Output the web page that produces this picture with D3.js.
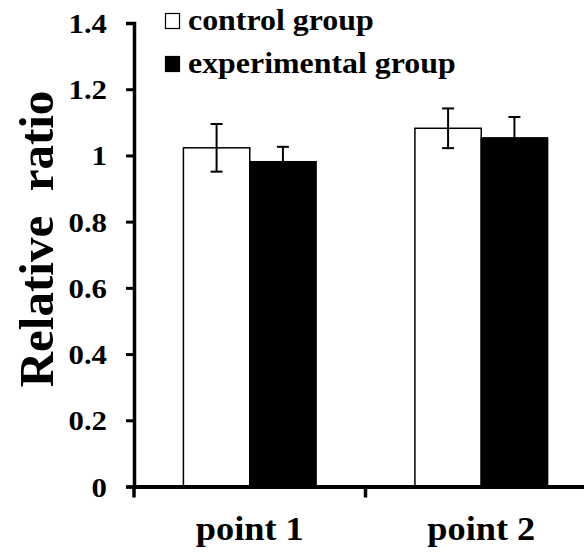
<!DOCTYPE html>
<html>
<head>
<meta charset="utf-8">
<script src="https://cdn.jsdelivr.net/npm/d3@7"></script>
<style>
  body { margin: 0; background: #fff; }
</style>
</head>
<body>
<div id="chart"></div>
<script>
// data
let categories = ["point 1", "point 2"];
let series = ["control group", "experimental group"];
let control_values = [1.023, 1.082];
let control_errors = [0.072, 0.060];
let experimental_values = [0.981, 1.053];
let experimental_errors = [0.045, 0.063];
let y_ticks = [0, 0.2, 0.4, 0.6, 0.8, 1, 1.2, 1.4];

let width = 584, height = 553;
let margin = {top: 23, left: 134, bottom: 66};
let font = "'Liberation Serif', 'Times New Roman', serif";
let stretch = 1.1;   //reference text is a bit wider than normal

let svg = d3.select("#chart")
            .append("svg")
            .attr("width", width)
            .attr("height", height);

//helper: bold serif text
function styleText(sel, size) {
  sel.style("font-family", font)
     .style("font-weight", "bold")
     .style("font-size", size + "px")
     .attr("fill", "#000");
}

//x scale for groups
let x0 = d3.scaleBand()
           .domain(categories)
           .range([margin.left, margin.left + 463]);

//x scale inside each group
let x1 = d3.scaleBand()
           .domain(series)
           .range([0, x0.bandwidth()])
           .paddingOuter(0.745);

let y = d3.scaleLinear()
          .domain([0, 1.4])
          .range([height - margin.bottom - 0.5, margin.top]);

//rows for bars
let rows = [];
categories.forEach(function(c, i) {
  rows.push({cat: c, s: series[0], v: control_values[i], e: control_errors[i]});
  rows.push({cat: c, s: series[1], v: experimental_values[i], e: experimental_errors[i]});
});

let color = d3.scaleOrdinal().domain(series).range(["#fff", "#000"]);

//bars
svg.append("g").selectAll("rect")
   .data(rows)
   .enter()
   .append("rect")
   .attr("x", function(d) { return x0(d.cat) + x1(d.s) })
   .attr("y", function(d) { return y(d.v) })
   .attr("width", x1.bandwidth())
   .attr("height", function(d) { return y(0) - y(d.v) })
   .attr("fill", function(d) { return color(d.s) })
   .attr("stroke", "#000")
   .attr("stroke-width", 1.5);

//error bars (lower half hidden behind black bars)
let err = svg.append("g").attr("stroke", "#000").attr("stroke-width", 2);
rows.forEach(function(d) {
  let cx = x0(d.cat) + x1(d.s) + x1.bandwidth() / 2;
  let top = y(d.v + d.e);
  let bottom = d.s === series[0] ? y(d.v - d.e) : y(d.v);
  err.append("line").attr("x1", cx).attr("x2", cx).attr("y1", top).attr("y2", bottom);
  err.append("line").attr("x1", cx - 6).attr("x2", cx + 6).attr("y1", top).attr("y2", top);
  if (d.s === series[0]) {
    err.append("line").attr("x1", cx - 6).attr("x2", cx + 6).attr("y1", bottom).attr("y2", bottom);
  }
});

//y axis
let y_axis = svg.append("g")
                .attr("transform", `translate(${margin.left},0)`)
                .call(d3.axisLeft(y).tickValues(y_ticks).tickFormat(d3.format("")).tickSizeOuter(0).tickSize(8));
y_axis.select(".domain").attr("stroke-width", 3.5);
y_axis.selectAll(".tick line").attr("stroke-width", 3);
y_axis.selectAll(".tick text")
      .call(styleText, 28)
      .attr("x", null)
      .attr("dy", "0.34em")
      .attr("transform", `translate(-27,0) scale(${stretch},1)`);

//x axis
let x_axis = svg.append("g")
                .attr("transform", `translate(0,${y(0)})`)
                .call(d3.axisBottom(x0).tickValues([]).tickSizeOuter(0));
x_axis.select(".domain").attr("stroke-width", 4);
//ticks at band edges
x_axis.selectAll(".edge")
      .data(categories)
      .enter()
      .append("line")
      .attr("x1", function(d) { return x0(d) })
      .attr("x2", function(d) { return x0(d) })
      .attr("y1", 0)
      .attr("y2", 11)
      .attr("stroke", "#000")
      .attr("stroke-width", 3.5);
//category labels
svg.append("g").selectAll("text")
   .data(categories)
   .enter()
   .append("text")
   .attr("transform", function(d) { return `translate(${x0(d) + x0.bandwidth() / 2},540) scale(${stretch},1)` })
   .style("text-anchor", "middle")
   .call(styleText, 33)
   .text(function(d) { return d });

//y axis title
svg.append("text")
   .attr("transform", `translate(53,239) rotate(-90)`)
   .style("text-anchor", "middle")
   .style("white-space", "pre")
   .call(styleText, 49)
   .text("Relative  ratio");

//legend
let legend = svg.append("g");
series.forEach(function(s, i) {
  let base = 30 + i * 43;
  legend.append("rect")
        .attr("x", 165.5).attr("y", base - 16.5)
        .attr("width", 14).attr("height", 15)
        .attr("fill", color(s))
        .attr("stroke", "#000")
        .attr("stroke-width", 1.2);
  legend.append("text")
        .attr("transform", `translate(188,${base}) scale(${stretch},1)`)
        .call(styleText, 29)
        .text(s);
});
</script>
</body>
</html>
